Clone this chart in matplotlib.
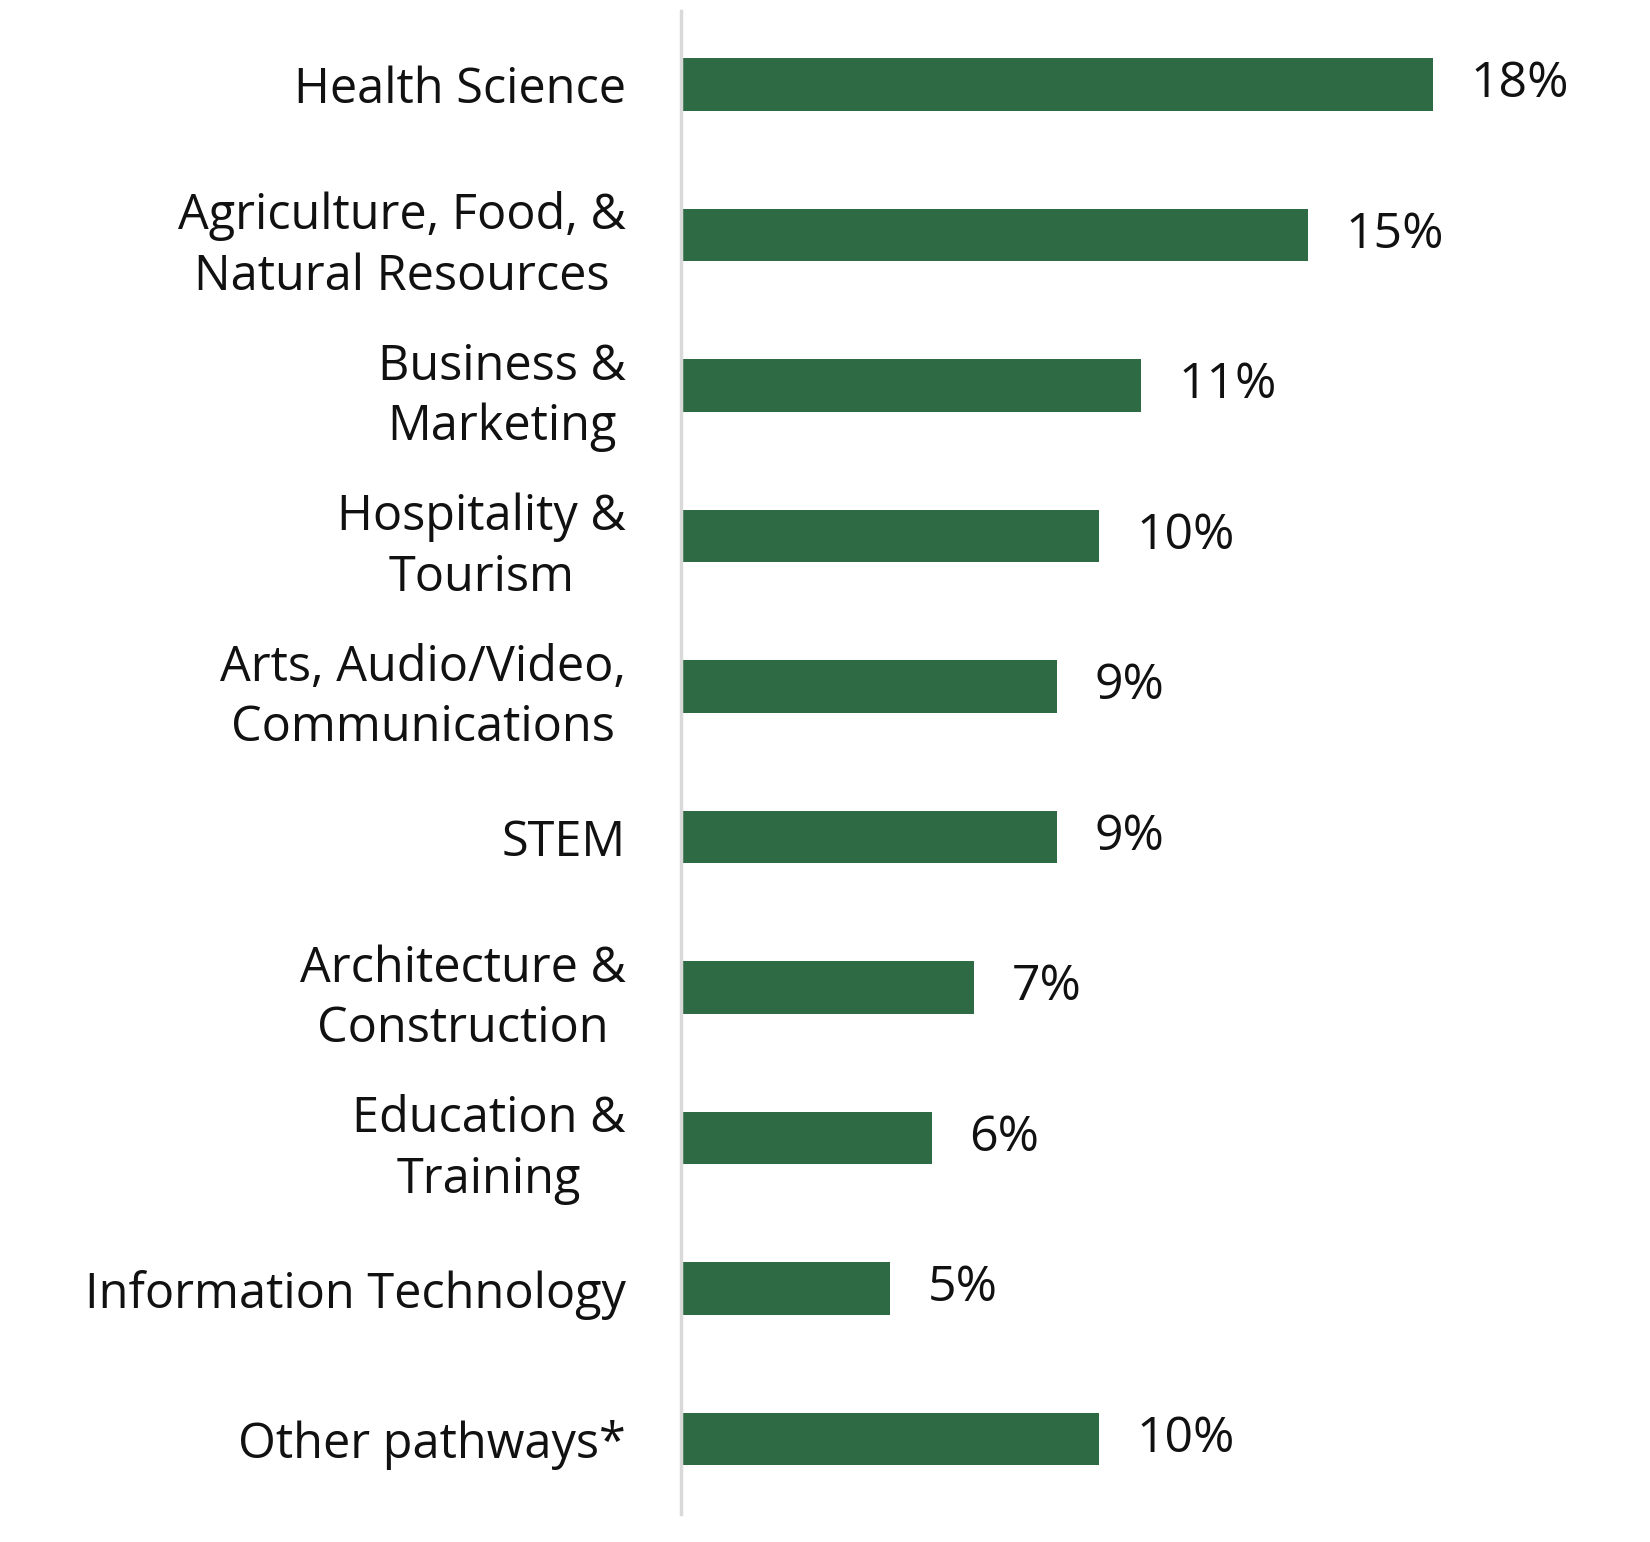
import matplotlib.pyplot as plt

categories = ['Health Science', 'Agriculture, Food, &\nNatural Resources', 'Business &\nMarketing',
              'Hospitality &\nTourism', 'Arts, Audio/Video,\nCommunications', 'STEM',
              'Architecture &\nConstruction', 'Education &\nTraining', 'Information Technology',
              'Other pathways*']
values = [18, 15, 11, 10, 9, 9, 7, 6, 5, 10]
labels = ['18%', '15%', '11%', '10%', '9%', '9%', '7%', '6%', '5%', '10%']

plt.rcParams['font.family'] = ['Open Sans', 'DejaVu Sans']
fig = plt.figure(figsize=(16.5, 15.42), dpi=100)
ax = fig.add_axes([0.413, 0.018, 0.587, 0.975])

y = list(range(len(values)))
ax.barh(y, values, height=0.35, color='#2E6B45')
ax.set_xlim(0, 23.2)
ax.set_ylim(9.5, -0.49)

for yi, v, lab in zip(y, values, labels):
    ax.text(v + 0.9, yi, lab, va='center', ha='left', fontsize=36, color='#111111')

ax.set_yticks(y)
ax.set_yticklabels(categories, fontsize=35, multialignment='center', color='#111111',
                   linespacing=1.3)
ax.tick_params(axis='y', length=0, pad=40)
ax.set_xticks([])
for s in ['top', 'right', 'bottom']:
    ax.spines[s].set_visible(False)
ax.spines['left'].set_color('#d9d9d9')
ax.spines['left'].set_linewidth(2.5)

fig.savefig('out.png', dpi=100)
